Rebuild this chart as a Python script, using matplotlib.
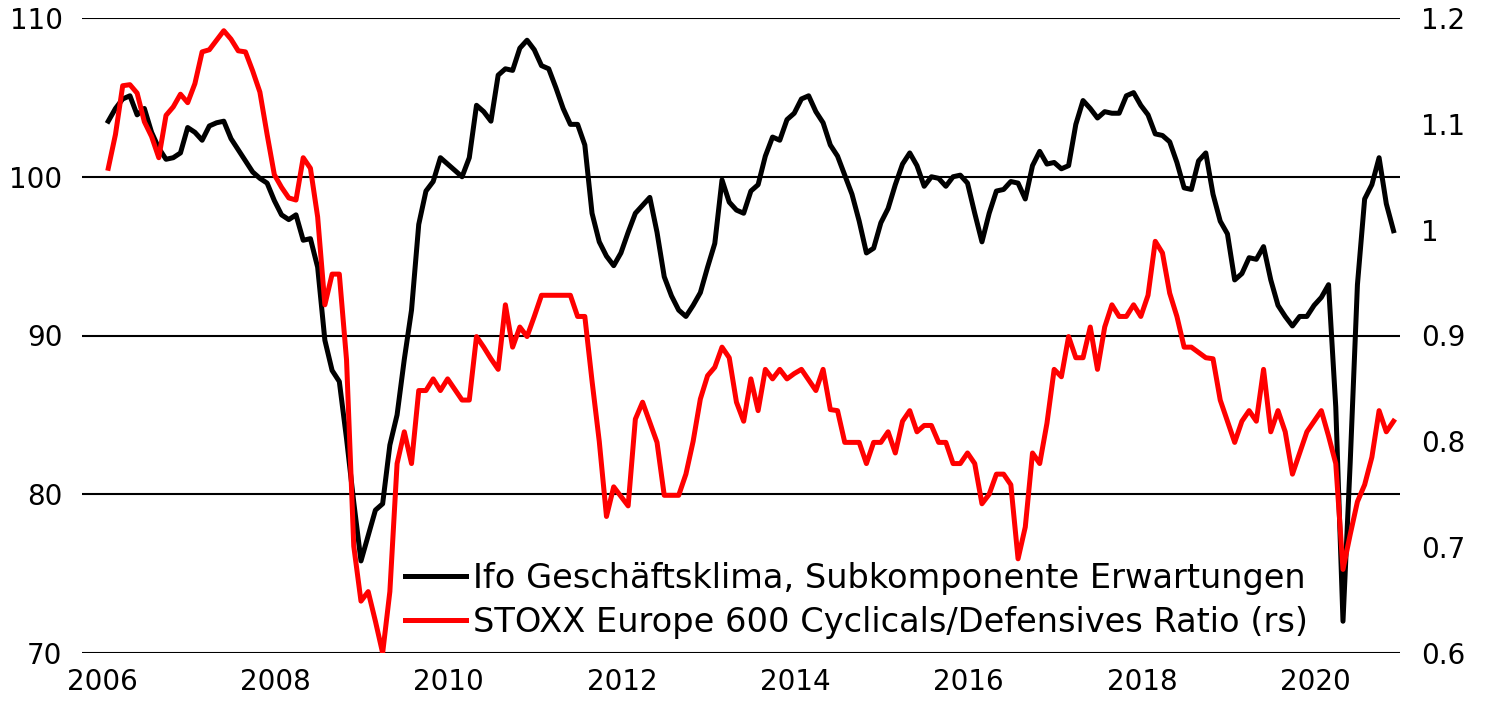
import matplotlib
matplotlib.use("Agg")
import matplotlib.pyplot as plt
import numpy as np

plt.rcParams['font.family'] = ['DejaVu Sans']

# Monthly data, Jan 2006 .. Nov 2020
start_year = 2006
ifo = [
    103.5, 104.3, 104.9, 105.1, 103.9, 104.3, 102.8, 101.8, 101.1, 101.2, 101.5, 103.1,
    102.8, 102.3, 103.2, 103.4, 103.5, 102.4, 101.7, 101.0, 100.3, 99.9, 99.6, 98.5,
    97.6, 97.3, 97.6, 96.0, 96.1, 94.3, 89.7, 87.8, 87.1, 83.5, 79.5, 75.8,
    77.4, 79.0, 79.4, 83.1, 85.0, 88.5, 91.6, 97.0, 99.1, 99.7, 101.2, 100.8,
    100.4, 100.0, 101.2, 104.5, 104.1, 103.5, 106.4, 106.8, 106.7, 108.1, 108.6, 108.0,
    107.0, 106.8, 105.6, 104.3, 103.3, 103.3, 102.0, 97.7, 95.9, 95.0, 94.4, 95.2,
    96.5, 97.7, 98.2, 98.7, 96.5, 93.7, 92.5, 91.6, 91.2, 91.9, 92.7, 94.3,
    95.8, 99.8, 98.4, 97.9, 97.7, 99.1, 99.5, 101.3, 102.5, 102.3, 103.6, 104.0,
    104.9, 105.1, 104.1, 103.4, 102.0, 101.3, 100.1, 98.9, 97.2, 95.2, 95.5, 97.1,
    98.0, 99.5, 100.8, 101.5, 100.7, 99.4, 100.0, 99.9, 99.4, 100.0, 100.1, 99.6,
    97.7, 95.9, 97.7, 99.1, 99.2, 99.7, 99.6, 98.6, 100.7, 101.6, 100.8, 100.9,
    100.5, 100.7, 103.3, 104.8, 104.3, 103.7, 104.1, 104.0, 104.0, 105.1, 105.3, 104.5,
    103.9, 102.7, 102.6, 102.2, 100.9, 99.3, 99.2, 101.0, 101.5, 98.9, 97.2, 96.4,
    93.5, 93.9, 94.9, 94.8, 95.6, 93.5, 91.9, 91.2, 90.6, 91.2, 91.2, 91.9,
    92.4, 93.2, 85.5, 72.0, 82.0, 93.2, 98.6, 99.5, 101.2, 98.3, 96.6,
]
ratio = [
    1.058, 1.090, 1.136, 1.137, 1.129, 1.102, 1.088, 1.068, 1.108, 1.116, 1.128, 1.120,
    1.138, 1.168, 1.170, 1.179, 1.188, 1.180, 1.169, 1.168, 1.150, 1.130, 1.090, 1.052,
    1.040, 1.030, 1.028, 1.068, 1.058, 1.012, 0.929, 0.958, 0.958, 0.877, 0.701, 0.649,
    0.658, 0.630, 0.600, 0.658, 0.779, 0.809, 0.779, 0.848, 0.848, 0.859, 0.848, 0.859,
    0.849, 0.839, 0.839, 0.899, 0.889, 0.878, 0.868, 0.929, 0.889, 0.908, 0.899, 0.918,
    0.938, 0.938, 0.938, 0.938, 0.938, 0.918, 0.918, 0.857, 0.800, 0.729, 0.757, 0.748,
    0.739, 0.821, 0.837, 0.818, 0.799, 0.749, 0.749, 0.749, 0.769, 0.800, 0.840, 0.862,
    0.870, 0.889, 0.879, 0.837, 0.819, 0.859, 0.829, 0.868, 0.859, 0.868, 0.859, 0.864,
    0.868, 0.858, 0.848, 0.868, 0.830, 0.829, 0.799, 0.799, 0.799, 0.779, 0.799, 0.799,
    0.809, 0.789, 0.819, 0.829, 0.809, 0.815, 0.815, 0.799, 0.799, 0.779, 0.779, 0.789,
    0.779, 0.741, 0.750, 0.769, 0.769, 0.759, 0.689, 0.719, 0.789, 0.779, 0.817, 0.868,
    0.861, 0.899, 0.879, 0.879, 0.908, 0.868, 0.908, 0.929, 0.918, 0.918, 0.929, 0.918,
    0.938, 0.989, 0.978, 0.940, 0.918, 0.889, 0.889, 0.884, 0.879, 0.878, 0.839, 0.819,
    0.799, 0.819, 0.829, 0.819, 0.868, 0.809, 0.829, 0.809, 0.769, 0.789, 0.809, 0.819,
    0.829, 0.805, 0.779, 0.679, 0.712, 0.743, 0.759, 0.785, 0.829, 0.809, 0.819,
]
year_ticks = [2006, 2008, 2010, 2012, 2014, 2016, 2018, 2020]
left_ticks = [70, 80, 90, 100, 110]
right_ticks = [0.6, 0.7, 0.8, 0.9, 1.0, 1.1, 1.2]
right_labels = ['0.6', '0.7', '0.8', '0.9', '1', '1.1', '1.2']
label_ifo = 'Ifo Geschäftsklima, Subkomponente Erwartungen'
label_ratio = 'STOXX Europe 600 Cyclicals/Defensives Ratio (rs)'

x = start_year + np.arange(len(ifo)) / 12.0
x2 = start_year + np.arange(len(ratio)) / 12.0

fig = plt.figure(figsize=(14.99, 7.02), dpi=100)
ax = fig.add_axes([82/1499, 49/702, (1400-82)/1499, (653-18)/702])
ax2 = ax.twinx()

for v in left_ticks:
    ax.axhline(v, color='black', lw=1.5, zorder=0)

l1, = ax.plot(x, ifo, color='black', lw=3.6, solid_joinstyle='round', zorder=3)
l2, = ax2.plot(x2, ratio, color='#ff0000', lw=3.6, solid_joinstyle='round', zorder=3)

ax.set_xlim(2005.697, 2020.908)
ax.set_ylim(70, 110)
ax2.set_ylim(0.6, 1.2)

ax.set_xticks([y - 0.07 for y in year_ticks])
ax.set_xticklabels([str(y) for y in year_ticks])
ax.set_yticks(left_ticks)
ax.set_yticklabels([str(v) for v in left_ticks])
ax2.set_yticks(right_ticks)
ax2.set_yticklabels(right_labels)

for a in (ax, ax2):
    for s in a.spines.values():
        s.set_visible(False)
    a.tick_params(length=0, labelsize=20, colors='black')
ax.tick_params(axis='y', pad=14)
ax2.tick_params(axis='y', pad=15)
ax.tick_params(axis='x', pad=11)

leg = ax2.legend([l1, l2], [label_ifo, label_ratio], loc='upper left',
                 bbox_to_anchor=(405/1499, (702-562)/702), bbox_transform=fig.transFigure,
                 frameon=False, fontsize=24.2, handlelength=1.8, handletextpad=0.22,
                 labelspacing=0.32, borderpad=0, borderaxespad=0)

fig.savefig('out.png', dpi=100)
